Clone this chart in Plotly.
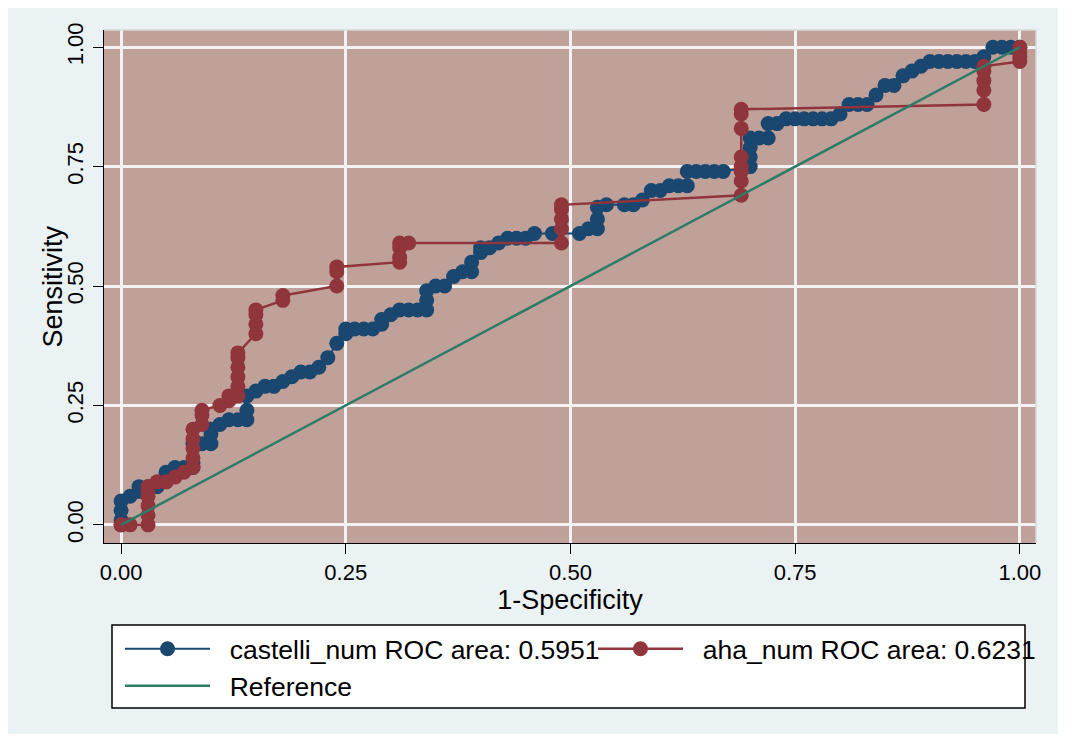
import plotly.graph_objects as go

# castelli_num ROC points (1-specificity, sensitivity)
castelli_x = [0, 0, 0, 0, 0.01, 0.02, 0.02, 0.03, 0.04, 0.05, 0.05, 0.06, 0.07, 0.08, 0.08, 0.08,
              0.09, 0.10, 0.10, 0.10, 0.11, 0.12, 0.13, 0.14, 0.14, 0.14, 0.15, 0.16, 0.17, 0.18,
              0.19, 0.20, 0.21, 0.22, 0.23, 0.24, 0.25, 0.25, 0.26, 0.27, 0.28, 0.29, 0.29, 0.30,
              0.31, 0.32, 0.33, 0.34, 0.34, 0.34, 0.35, 0.36, 0.37, 0.38, 0.39, 0.39, 0.40, 0.40,
              0.41, 0.42, 0.43, 0.44, 0.45, 0.46, 0.48, 0.51, 0.52, 0.53, 0.53, 0.53, 0.54, 0.56,
              0.57, 0.58, 0.59, 0.60, 0.61, 0.62, 0.63, 0.63, 0.64, 0.65, 0.66, 0.67, 0.70, 0.70,
              0.70, 0.70, 0.71, 0.72, 0.72, 0.73, 0.74, 0.75, 0.76, 0.77, 0.78, 0.79, 0.80, 0.81,
              0.82, 0.83, 0.84, 0.85, 0.86, 0.87, 0.88, 0.89, 0.90, 0.91, 0.92, 0.93, 0.94, 0.95,
              0.96, 0.97, 0.98, 0.99, 1.00]
castelli_y = [0, 0.01, 0.03, 0.05, 0.06, 0.07, 0.08, 0.08, 0.08, 0.09, 0.11, 0.12, 0.12, 0.12, 0.13, 0.17,
              0.17, 0.17, 0.19, 0.20, 0.21, 0.22, 0.22, 0.22, 0.24, 0.27, 0.28, 0.29, 0.29, 0.30,
              0.31, 0.32, 0.32, 0.33, 0.35, 0.38, 0.40, 0.41, 0.41, 0.41, 0.41, 0.42, 0.43, 0.44,
              0.45, 0.45, 0.45, 0.45, 0.47, 0.49, 0.50, 0.50, 0.52, 0.53, 0.53, 0.55, 0.57, 0.58,
              0.58, 0.59, 0.60, 0.60, 0.60, 0.61, 0.61, 0.61, 0.62, 0.62, 0.64, 0.665, 0.67, 0.67,
              0.67, 0.68, 0.70, 0.70, 0.71, 0.71, 0.71, 0.74, 0.74, 0.74, 0.74, 0.74, 0.75, 0.77,
              0.79, 0.81, 0.81, 0.81, 0.84, 0.84, 0.85, 0.85, 0.85, 0.85, 0.85, 0.85, 0.86, 0.88,
              0.88, 0.88, 0.90, 0.92, 0.92, 0.94, 0.95, 0.96, 0.97, 0.97, 0.97, 0.97, 0.97, 0.97,
              0.98, 1.00, 1.00, 1.00, 1.00]

# aha_num ROC points
aha_x = [0, 0.01, 0.03, 0.03, 0.03, 0.03, 0.03, 0.03, 0.04, 0.05, 0.06, 0.07, 0.08, 0.08, 0.08, 0.08,
         0.08, 0.09, 0.09, 0.09, 0.11, 0.12, 0.12, 0.13, 0.13, 0.13, 0.13, 0.13, 0.13, 0.15, 0.15,
         0.15, 0.15, 0.18, 0.18, 0.24, 0.24, 0.24, 0.31, 0.31, 0.31, 0.31, 0.32, 0.49, 0.49, 0.49,
         0.49, 0.49, 0.69, 0.69, 0.69, 0.69, 0.69, 0.69, 0.69, 0.69, 0.96, 0.96, 0.96, 0.96, 0.96,
         1.00, 1.00, 1.00, 1.00]
aha_y = [0, 0, 0, 0.02, 0.04, 0.06, 0.07, 0.08, 0.09, 0.09, 0.10, 0.11, 0.12, 0.14, 0.16, 0.18,
         0.20, 0.21, 0.23, 0.24, 0.25, 0.26, 0.27, 0.27, 0.29, 0.31, 0.33, 0.35, 0.36, 0.40, 0.42,
         0.44, 0.45, 0.47, 0.48, 0.50, 0.53, 0.54, 0.55, 0.56, 0.58, 0.59, 0.59, 0.59, 0.62, 0.64,
         0.66, 0.67, 0.69, 0.72, 0.74, 0.75, 0.77, 0.83, 0.86, 0.87, 0.88, 0.91, 0.93, 0.95, 0.96,
         0.97, 0.98, 0.99, 1.00]

ref_x = [0, 1]
ref_y = [0, 1]

names = ["castelli_num ROC area: 0.5951", "aha_num ROC area: 0.6231", "Reference"]
tick_vals = [0, 0.25, 0.5, 0.75, 1.0]
tick_text = ["0.00", "0.25", "0.50", "0.75", "1.00"]
x_title = "1-Specificity"
y_title = "Sensitivity"

NAVY = "#1A476F"
MAROON = "#90353B"
GREEN = "#2E7B67"
FONT = "Arial, Liberation Sans, sans-serif"
PAD = "\u00a0\u00a0"

fig = go.Figure()
fig.add_trace(go.Scatter(x=castelli_x, y=castelli_y, mode="lines+markers", name=PAD + names[0],
                         line=dict(color=NAVY, width=2),
                         marker=dict(color=NAVY, size=15, line=dict(width=0)),
                         legend="legend", showlegend=True))
fig.add_trace(go.Scatter(x=aha_x, y=aha_y, mode="lines+markers", name=PAD + names[1],
                         line=dict(color=MAROON, width=2.5),
                         marker=dict(color=MAROON, size=15, line=dict(width=0)),
                         legend="legend2", showlegend=True))
fig.add_trace(go.Scatter(x=ref_x, y=ref_y, mode="lines", name=PAD + names[2],
                         line=dict(color=GREEN, width=2.5),
                         legend="legend3", showlegend=True))

# figure is 1050x726 (page adds an 8px body margin); plot area 96..1028 x 22..535
W, H = 1050, 726
L, R, T, B = 96, 22, 22, 191
pw, ph = W - L - R, H - T - B

def px_x(px):
    return (px - L) / pw

def px_y(py):
    return (H - B - py) / ph

leg_common = dict(orientation="h", xanchor="left", yanchor="middle",
                  bgcolor="rgba(0,0,0,0)", borderwidth=0, itemwidth=85,
                  font=dict(size=26.5), visible=True)

fig.update_layout(
    width=W, height=H,
    showlegend=True,
    margin=dict(l=L, r=R, t=T, b=B, autoexpand=False),
    paper_bgcolor="#EAF2F3",
    plot_bgcolor="#BFA19A",
    font=dict(family=FONT, color="black", size=22),
    xaxis=dict(range=[-0.019, 1.018], tickvals=tick_vals, ticktext=tick_text,
               showgrid=True, gridcolor="#F2F2F2", gridwidth=2.5, zeroline=False,
               showline=True, linecolor="black", linewidth=1,
               ticks="outside", ticklen=10, tickcolor="black",
               tickfont=dict(size=22),
               title=dict(text=x_title, font=dict(size=27), standoff=0),
               automargin=False),
    yaxis=dict(range=[-0.038, 1.036], tickvals=tick_vals, ticktext=tick_text,
               showgrid=True, gridcolor="#F2F2F2", gridwidth=2.5, zeroline=False,
               showline=True, linecolor="black", linewidth=1,
               ticks="outside", ticklen=10, tickcolor="black", tickangle=-90,
               tickfont=dict(size=22), ticklabelstandoff=1,
               automargin=False),
    annotations=[
        dict(text=y_title, xref="paper", yref="paper", x=px_x(44), y=0.5,
             xanchor="center", yanchor="middle", textangle=-90, showarrow=False,
             font=dict(size=27, color="black")),
    ],
    legend=dict(x=px_x(112), y=px_y(641), **leg_common),
    legend2=dict(x=px_x(585), y=px_y(641), **leg_common),
    legend3=dict(x=px_x(112), y=px_y(678), **leg_common),
    shapes=[
        dict(type="rect", xref="paper", yref="paper", x0=px_x(104), x1=px_x(1017),
             y0=px_y(700), y1=px_y(617), fillcolor="white",
             line=dict(color="black", width=1.5), layer="below"),
        dict(type="line", xref="paper", yref="paper", x0=0, x1=1, y0=1, y1=1,
             line=dict(color="#D9D9D9", width=1.5)),
        dict(type="line", xref="paper", yref="paper", x0=1, x1=1, y0=0, y1=1,
             line=dict(color="#D9D9D9", width=1.5)),
    ],
)

fig.write_html("out.html")
